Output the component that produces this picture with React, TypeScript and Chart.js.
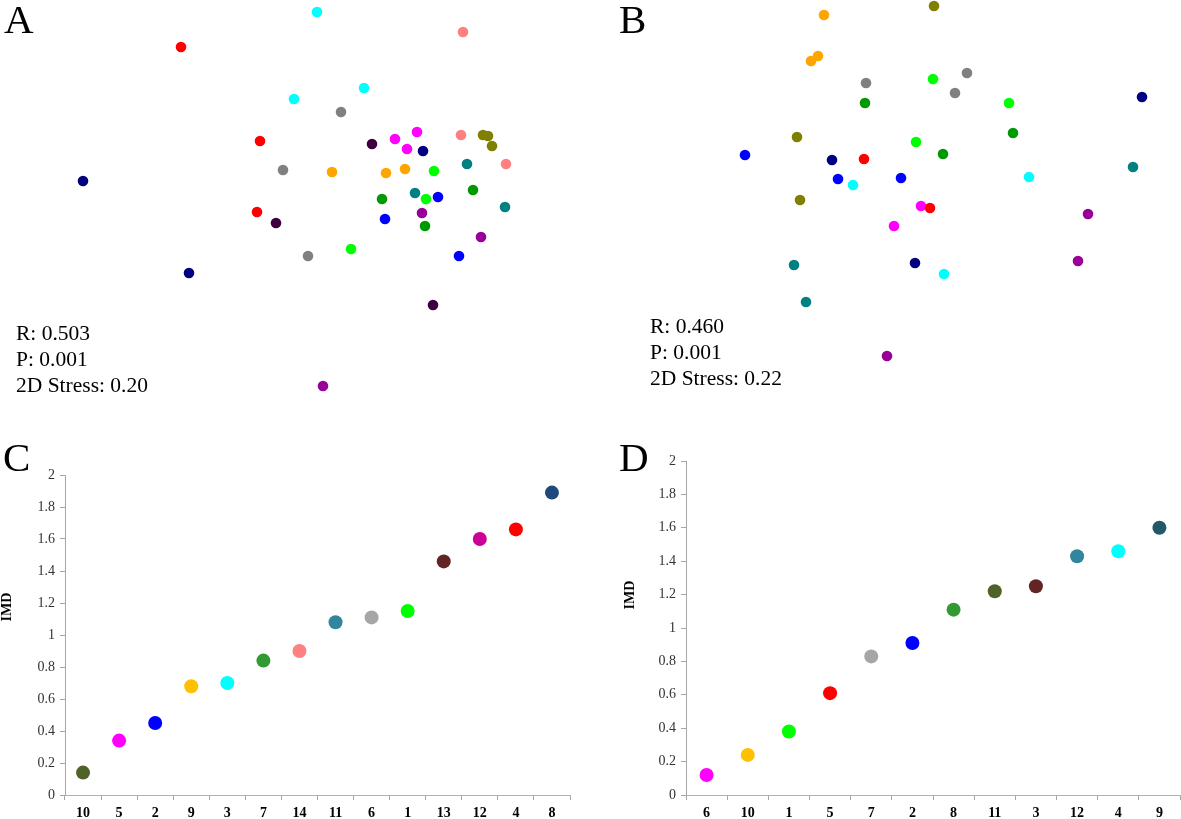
import React, { useEffect, useRef } from 'react';
import { Chart, registerables } from 'chart.js';

Chart.register(...registerables);

const SERIF = '"Liberation Serif", "Times New Roman", Times, serif';

// ---------- colours of the sample groups in the NMDS plots ----------
const GROUP_COLORS: Record<string, string> = {
  navy: '#000080',
  blue: '#0000FF',
  lime: '#00FF00',
  darkgreen: '#009900',
  teal: '#008080',
  cyan: '#00FFFF',
  red: '#FF0000',
  salmon: '#FF8080',
  magenta: '#FF00FF',
  purple: '#990099',
  plum: '#400040',
  olive: '#808000',
  orange: '#FFA500',
  gray: '#808080',
};

// ---------- Panel A (NMDS) ----------
const aNmds1 = [0.17, 1.63, -1.19, 0.64, -0.06, 0.41, 1.17, 1.61, 1.83, 1.88, 1.92, -0.40, 0.72, 0.95, 1.07, 1.23, 1.67, 2.06, -0.17, 0.32, 0.86, 1.05, 1.34, -2.17, 1.15, 1.26, 1.38, 0.82, 1.73, 2.05, -0.43, -0.24, 1.22, 0.85, 1.25, 1.81, 0.51, 0.08, 1.59, -1.11, 1.33, 0.23];
const aNmds2 = [1.88, 1.68, 1.53, 1.12, 1.01, 0.88, 0.68, 0.65, 0.65, 0.64, 0.54, 0.59, 0.56, 0.61, 0.51, 0.49, 0.36, 0.36, 0.30, 0.28, 0.27, 0.31, 0.29, 0.19, 0.07, 0.01, 0.03, 0.01, 0.10, -0.07, -0.12, -0.23, -0.13, -0.19, -0.26, -0.37, -0.49, -0.56, -0.56, -0.73, -1.05, -1.86];
const aGroups = ['cyan', 'salmon', 'red', 'cyan', 'cyan', 'gray', 'magenta', 'salmon', 'olive', 'olive', 'olive', 'red', 'plum', 'magenta', 'magenta', 'navy', 'teal', 'salmon', 'gray', 'orange', 'orange', 'orange', 'lime', 'navy', 'teal', 'lime', 'blue', 'darkgreen', 'darkgreen', 'teal', 'red', 'plum', 'purple', 'blue', 'darkgreen', 'purple', 'lime', 'gray', 'blue', 'navy', 'plum', 'purple'];
const aStats = ['R: 0.503', 'P: 0.001', '2D Stress: 0.20'];

// ---------- Panel B (NMDS) ----------
const bNmds1 = [0.34, -0.76, -0.82, -0.89, 0.67, -0.34, 0.33, 0.55, 2.42, -0.35, 1.09, -1.03, 1.13, 0.16, -1.55, 0.43, -0.68, -0.36, 2.33, -0.62, -0.47, 0.01, 1.29, -1.00, 0.21, 0.30, 1.88, -0.06, -1.06, 0.15, 0.44, 1.78, -0.94, -0.13];
const bNmds2 = [1.94, 1.85, 1.44, 1.39, 1.27, 1.17, 1.21, 1.07, 1.03, 0.97, 0.97, 0.63, 0.67, 0.58, 0.45, 0.46, 0.40, 0.41, 0.33, 0.21, 0.15, 0.22, 0.23, 0.00, -0.06, -0.08, -0.14, -0.26, -0.65, -0.63, -0.74, -0.61, -1.02, -1.56];
const bGroups = ['olive', 'orange', 'orange', 'orange', 'gray', 'gray', 'lime', 'gray', 'navy', 'darkgreen', 'lime', 'olive', 'darkgreen', 'lime', 'blue', 'darkgreen', 'navy', 'red', 'teal', 'blue', 'cyan', 'blue', 'cyan', 'olive', 'magenta', 'red', 'purple', 'magenta', 'teal', 'navy', 'cyan', 'purple', 'teal', 'purple'];
const bStats = ['R: 0.460', 'P: 0.001', '2D Stress: 0.22'];

// ---------- Panel C (IMD) ----------
const cSites = ['10', '5', '2', '9', '3', '7', '14', '11', '6', '1', '13', '12', '4', '8'];
const cImd = [0.14, 0.34, 0.45, 0.68, 0.70, 0.84, 0.90, 1.08, 1.11, 1.15, 1.46, 1.60, 1.66, 1.89];
const cColors = ['#4F6228', '#FF00FF', '#0000FF', '#FFC000', '#00FFFF', '#339933', '#FF8080', '#31859C', '#A6A6A6', '#00FF00', '#632523', '#CC0099', '#FF0000', '#1F497D'];

// ---------- Panel D (IMD) ----------
const dSites = ['6', '10', '1', '5', '7', '2', '8', '11', '3', '12', '4', '9'];
const dImd = [0.12, 0.24, 0.38, 0.61, 0.83, 0.91, 1.11, 1.22, 1.25, 1.43, 1.46, 1.60];
const dColors = ['#FF00FF', '#FFC000', '#00FF00', '#FF0000', '#A6A6A6', '#0000FF', '#339933', '#4F6228', '#632523', '#31859C', '#00FFFF', '#215968'];

const imdMin = 0;
const imdMax = 2;
const imdStep = 0.2;

type Box = { left: number; top: number; width: number; height: number };

function Text(props: { x: number; baseline: number; size: number; bold?: boolean; children: React.ReactNode }) {
  const { x, baseline, size, bold, children } = props;
  return (
    <div
      style={{
        position: 'absolute',
        left: x,
        top: baseline - 0.8375 * size,
        fontFamily: SERIF,
        fontSize: size,
        lineHeight: 1,
        fontWeight: bold ? 'bold' : 'normal',
        whiteSpace: 'nowrap',
        color: '#000',
      }}
    >
      {children}
    </div>
  );
}

function NmdsPanel(props: {
  box: Box;
  xs: number[];
  ys: number[];
  groups: string[];
  xRange: [number, number];
  yRange: [number, number];
}) {
  const ref = useRef<HTMLCanvasElement>(null);
  const { box, xs, ys, groups, xRange, yRange } = props;
  useEffect(() => {
    if (!ref.current) return;
    const chart = new Chart(ref.current, {
      type: 'scatter',
      data: {
        datasets: [
          {
            data: xs.map((x, i) => ({ x, y: ys[i] })),
            pointBackgroundColor: groups.map((g) => GROUP_COLORS[g]),
            pointBorderWidth: 0,
            pointRadius: 5.3,
            clip: false as any,
          },
        ],
      },
      options: {
        responsive: false,
        animation: false,
        events: [],
        layout: { padding: 0, autoPadding: false },
        plugins: { legend: { display: false }, tooltip: { enabled: false } },
        scales: {
          x: { type: 'linear', display: false, min: xRange[0], max: xRange[1] },
          y: { type: 'linear', display: false, min: yRange[0], max: yRange[1] },
        },
      },
    });
    return () => chart.destroy();
  }, []);
  return (
    <canvas
      ref={ref}
      width={box.width}
      height={box.height}
      style={{ position: 'absolute', left: box.left, top: box.top, width: box.width, height: box.height }}
    />
  );
}

function ImdPanel(props: {
  box: Box;
  sites: string[];
  values: number[];
  colors: string[];
  padding: { top: number; right: number; left: number; bottom: number };
  yAxisWidth: number;
}) {
  const ref = useRef<HTMLCanvasElement>(null);
  const { box, sites, values, colors, padding, yAxisWidth } = props;
  useEffect(() => {
    if (!ref.current) return;
    const chart = new Chart(ref.current, {
      type: 'line',
      data: {
        labels: sites,
        datasets: [
          {
            data: values,
            showLine: false,
            pointBackgroundColor: colors,
            pointBorderWidth: 0,
            pointRadius: 7,
            clip: false as any,
          },
        ],
      },
      options: {
        responsive: false,
        animation: false,
        events: [],
        layout: { padding, autoPadding: false },
        plugins: { legend: { display: false }, tooltip: { enabled: false } },
        scales: {
          x: {
            type: 'category',
            offset: true,
            grid: {
              display: true,
              offset: true,
              drawOnChartArea: false,
              drawTicks: true,
              tickLength: 5,
              color: '#A6A6A6',
            },
            border: { display: true, color: '#B4ACC8', width: 1 },
            ticks: {
              autoSkip: false,
              maxRotation: 0,
              padding: 5,
              color: '#000',
              font: { family: SERIF, size: 14, weight: 'bold' },
            },
            afterFit: (s: any) => {
              s.height = 24;
            },
          },
          y: {
            type: 'linear',
            min: imdMin,
            max: imdMax,
            grid: {
              display: true,
              drawOnChartArea: false,
              drawTicks: true,
              tickLength: 5,
              color: '#A6A6A6',
            },
            border: { display: true, color: '#A6A6A6', width: 1 },
            ticks: {
              stepSize: imdStep,
              padding: 5,
              color: '#333333',
              font: { family: SERIF, size: 14 },
              callback: (v: any) => String(Number(Number(v).toFixed(1))),
            },
            afterFit: (s: any) => {
              s.width = yAxisWidth;
            },
          },
        },
      },
    });
    return () => chart.destroy();
  }, []);
  return (
    <canvas
      ref={ref}
      width={box.width}
      height={box.height}
      style={{ position: 'absolute', left: box.left, top: box.top, width: box.width, height: box.height }}
    />
  );
}

function AxisTitle(props: { cx: number; cy: number; text: string }) {
  return (
    <div
      style={{
        position: 'absolute',
        left: props.cx,
        top: props.cy,
        transform: 'translate(-50%, -50%) rotate(-90deg)',
        fontFamily: SERIF,
        fontSize: 14,
        fontWeight: 'bold',
        lineHeight: 1,
        whiteSpace: 'nowrap',
        color: '#000',
      }}
    >
      {props.text}
    </div>
  );
}

export default function App() {
  return (
    <div
      style={{
        position: 'absolute',
        left: 0,
        top: 0,
        width: 1181,
        height: 819,
        background: '#fff',
        overflow: 'hidden',
      }}
    >
      <NmdsPanel
        box={{ left: 0, top: 0, width: 590, height: 410 }}
        xs={aNmds1}
        ys={aNmds2}
        groups={aGroups}
        xRange={[-3.0, 2.9]}
        yRange={[-2.1, 2.0]}
      />
      <NmdsPanel
        box={{ left: 590, top: 0, width: 591, height: 410 }}
        xs={bNmds1}
        ys={bNmds2}
        groups={bGroups}
        xRange={[-3.1, 2.81]}
        yRange={[-2.1, 2.0]}
      />
      <ImdPanel
        box={{ left: 0, top: 440, width: 590, height: 379 }}
        sites={cSites}
        values={cImd}
        colors={cColors}
        padding={{ top: 35, right: 20, left: 0, bottom: 0 }}
        yAxisWidth={65}
      />
      <ImdPanel
        box={{ left: 590, top: 430, width: 591, height: 389 }}
        sites={dSites}
        values={dImd}
        colors={dColors}
        padding={{ top: 31, right: 1, left: 32, bottom: 0 }}
        yAxisWidth={64}
      />

      <Text x={4} baseline={33} size={41}>A</Text>
      <Text x={619} baseline={33} size={41}>B</Text>
      <Text x={3} baseline={471} size={41}>C</Text>
      <Text x={619} baseline={471} size={41}>D</Text>

      {aStats.map((s, i) => (
        <Text key={'a' + i} x={16} baseline={341 + i * 26} size={21.5}>{s}</Text>
      ))}
      {bStats.map((s, i) => (
        <Text key={'b' + i} x={650} baseline={334 + i * 26} size={21.5}>{s}</Text>
      ))}

      <AxisTitle cx={7} cy={607} text="IMD" />
      <AxisTitle cx={630} cy={595} text="IMD" />
    </div>
  );
}
